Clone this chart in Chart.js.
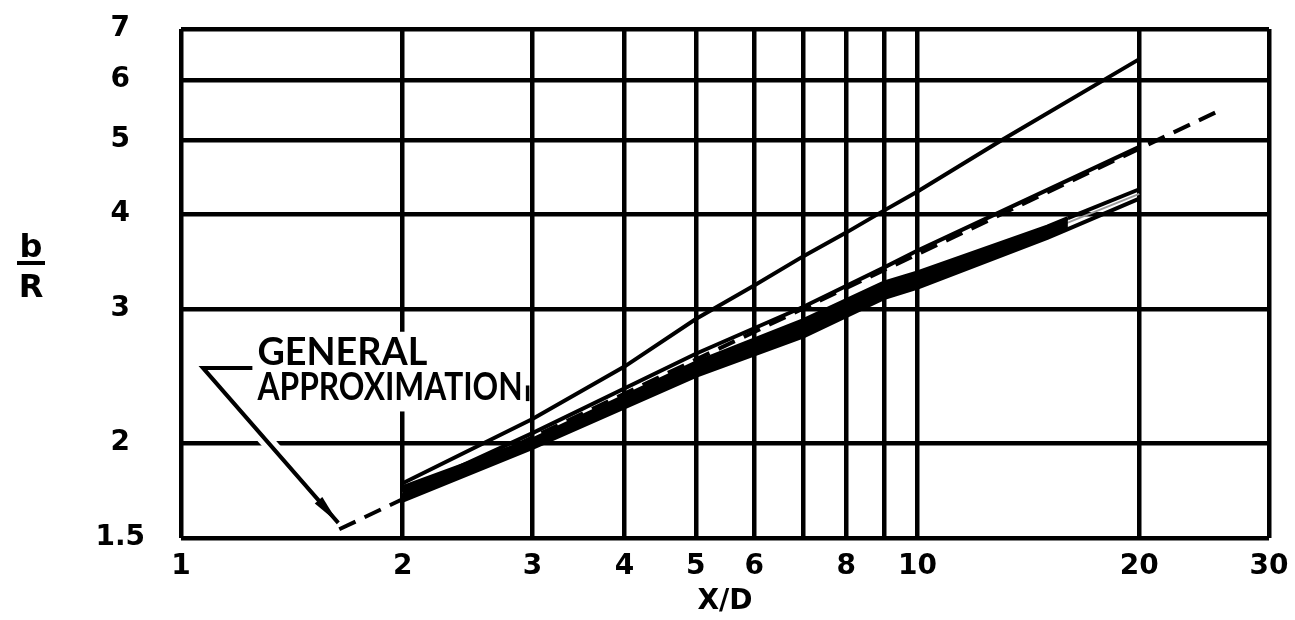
<!DOCTYPE html>
<html>
<head>
<meta charset="utf-8">
<script src="https://cdn.jsdelivr.net/npm/chart.js@4.4.1/dist/chart.umd.min.js"></script>
<style>
html, body { margin: 0; padding: 0; background: #fff; }
</style>
</head>
<body>
<canvas id="myChart" width="1295" height="620"></canvas>
<script>
// grid / tick values
var xTicks  = [1, 2, 3, 4, 5, 6, 7, 8, 9, 10, 20, 30];
var xLabels = ['1', '2', '3', '4', '5', '6', '', '8', '', '10', '20', '30'];
var yTicks  = [1.5, 2, 3, 4, 5, 6, 7];
var yLabels = ['1.5', '2', '3', '4', '5', '6', '7'];

// curves (X/D, b/R)
var xA = [2, 3, 4, 5, 6, 7, 8, 9, 10, 13, 20];
var yA = [1.77, 2.15, 2.52, 2.91, 3.22, 3.52, 3.78, 4.04, 4.28, 5.0, 6.39];
var xB = [2, 3, 5, 7, 9, 10, 20];
var yB = [1.72, 2.06, 2.62, 3.02, 3.40, 3.58, 4.90];
var xApprox = [1.64, 25.4];
var yApprox = [1.54, 5.44];
var xC = [2, 3, 5, 7, 9, 10, 15, 16, 20];
var yC = [1.75, 2.02, 2.55, 2.90, 3.25, 3.35, 3.85, 3.95, 4.31];
var xD = [2, 3, 5, 7, 9, 10, 15, 16, 20];
var yD = [1.68, 1.97, 2.45, 2.76, 3.10, 3.20, 3.72, 3.82, 4.19];
var xE = [2, 3, 4, 5, 7, 10, 15, 20];
var yE = [1.72, 1.99, 2.25, 2.46, 2.83, 3.26, 3.80, 4.25];

function pts(xs, ys) {
    return xs.map(function (v, i) { return {x: v, y: ys[i]}; });
}

var tickFont = {family: 'DejaVu Sans', size: 28, weight: 'bold'};

var notes = {
    id: 'notes',
    beforeDatasetsDraw: function (chart) {
        var c = chart.ctx, sx = chart.scales.x, sy = chart.scales.y;
        c.save();
        // white patch behind the label
        var l = sx.getPixelForValue(1.25), r = sx.getPixelForValue(2.93);
        var t = sy.getPixelForValue(2.80), b = sy.getPixelForValue(2.20);
        c.fillStyle = '#fff';
        c.fillRect(l, t, r - l, b - t);

        // leader line with white halo
        var p0 = [sx.getPixelForValue(1.25), sy.getPixelForValue(2.51)];
        var p1 = [sx.getPixelForValue(1.071), sy.getPixelForValue(2.51)];
        var p2 = [sx.getPixelForValue(1.635), sy.getPixelForValue(1.57)];
        c.lineJoin = 'miter';
        c.strokeStyle = '#fff';
        c.lineWidth = 14;
        c.beginPath(); c.moveTo(p1[0] + 8, p1[1] + 10); c.lineTo(p2[0] - 6, p2[1] - 8); c.stroke();
        c.strokeStyle = '#000';
        c.lineWidth = 4;
        c.beginPath(); c.moveTo(p0[0], p0[1]); c.lineTo(p1[0], p1[1]); c.lineTo(p2[0], p2[1]); c.stroke();
        // arrow head
        var ang = Math.atan2(p2[1] - p1[1], p2[0] - p1[0]);
        c.fillStyle = '#000';
        c.beginPath();
        c.moveTo(p2[0], p2[1]);
        c.lineTo(p2[0] - 30 * Math.cos(ang) + 5 * Math.sin(ang), p2[1] - 30 * Math.sin(ang) - 5 * Math.cos(ang));
        c.lineTo(p2[0] - 30 * Math.cos(ang) - 5 * Math.sin(ang), p2[1] - 30 * Math.sin(ang) + 5 * Math.cos(ang));
        c.closePath();
        c.fill();

        // label text, squeezed to the width it takes on the plot
        c.font = 'bold 38px Lato';
        c.textBaseline = 'alphabetic';
        c.textAlign = 'left';
        function squeeze(txt, x0, x1, yv) {
            var w = c.measureText(txt).width;
            var px0 = sx.getPixelForValue(x0), px1 = sx.getPixelForValue(x1);
            c.save();
            c.translate(px0, sy.getPixelForValue(yv));
            c.scale((px1 - px0) / w, 1);
            c.fillText(txt, 0, 0);
            c.restore();
        }
        squeeze('GENERAL', 1.27, 2.16, 2.53);
        squeeze('APPROXIMATION', 1.27, 2.91, 2.28);
        var bx = sx.getPixelForValue(2.955);
        c.lineWidth = 3.5;
        c.beginPath();
        c.moveTo(bx, sy.getPixelForValue(2.38));
        c.lineTo(bx, sy.getPixelForValue(2.27));
        c.stroke();
        c.restore();
    },
    afterDraw: function (chart) {
        // y axis title b over R
        var c = chart.ctx, cx = chart.chartArea.left - 150;
        c.save();
        c.fillStyle = '#000';
        c.font = 'bold 32px "DejaVu Sans"';
        c.textAlign = 'center';
        c.textBaseline = 'alphabetic';
        c.fillText('b', cx, 257);
        c.fillText('R', cx, 297);
        c.fillRect(cx - 14, 261, 28, 4);
        c.restore();
    }
};

var ctx = document.getElementById('myChart');

new Chart(ctx, {
    type: 'scatter',
    data: {
        datasets: [
            {label: 'A', data: pts(xA, yA), borderColor: '#000', borderWidth: 4},
            {label: 'B', data: pts(xB, yB), borderColor: '#000', borderWidth: 4},
            {label: 'approx', data: pts(xApprox, yApprox), borderColor: '#000', borderWidth: 4,
                borderDash: [18, 10]},
            {label: 'C', data: pts(xC, yC), borderColor: '#000', borderWidth: 4,
                backgroundColor: '#000', fill: {target: 4},
                segment: {
                    backgroundColor: function (s) { return s.p0.parsed.x >= 16 ? 'rgba(0,0,0,0)' : '#000'; }
                }},
            {label: 'D', data: pts(xD, yD), borderColor: '#000', borderWidth: 4},
            {label: 'E', data: pts(xE, yE), borderColor: '#9a9a9a', borderWidth: 2}
        ]
    },
    options: {
        responsive: false,
        animation: false,
        showLine: true,
        elements: {point: {radius: 0, hoverRadius: 0}, line: {tension: 0}},
        layout: {padding: {top: 29, right: 26, left: 0, bottom: 0}},
        plugins: {legend: {display: false}, tooltip: {enabled: false}},
        scales: {
            x: {
                type: 'logarithmic', min: 1, max: 30,
                afterBuildTicks: function (s) { s.ticks = xTicks.map(function (v) { return {value: v}; }); },
                afterFit: function (s) { s.height = 82; s.paddingLeft = 0; s.paddingRight = 26; },
                ticks: {
                    autoSkip: false, maxRotation: 0, padding: 12, color: '#000', font: tickFont,
                    callback: function (v, i) { return xLabels[i]; }
                },
                grid: {color: '#000', lineWidth: 4.5, drawTicks: false},
                border: {display: false},
                title: {display: true, text: 'X/D', color: '#000',
                    font: {family: 'DejaVu Sans', size: 28, weight: 'bold'}, padding: {top: 0, bottom: 1}}
            },
            y: {
                type: 'logarithmic', min: 1.5, max: 7,
                afterBuildTicks: function (s) { s.ticks = yTicks.map(function (v) { return {value: v}; }); },
                afterFit: function (s) { s.width = 181; s.paddingTop = 29; s.paddingBottom = 0; },
                ticks: {
                    autoSkip: false, padding: 36, crossAlign: 'center', color: '#000', font: tickFont,
                    callback: function (v, i) { return yLabels[i]; }
                },
                grid: {color: '#000', lineWidth: 4.5, drawTicks: false},
                border: {display: false}
            }
        }
    },
    plugins: [notes]
});
</script>
</body>
</html>
